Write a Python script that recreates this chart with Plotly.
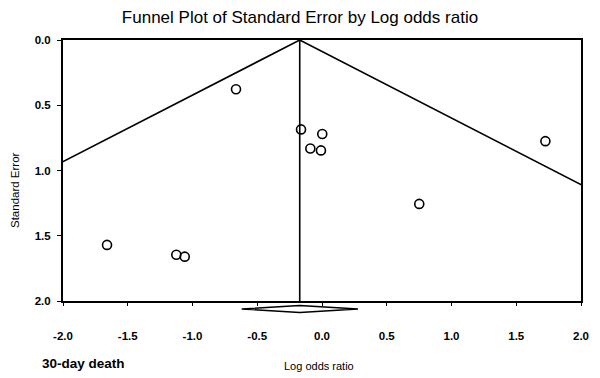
import plotly.graph_objects as go

# Study data
log_or = [-1.66, -1.125, -1.06, -0.664, -0.162, -0.09, -0.008, 0.002, 0.751, 1.725]
std_err = [1.57, 1.646, 1.66, 0.377, 0.685, 0.831, 0.846, 0.72, 1.256, 0.775]

# Pooled estimate and its 95% CI
pooled = -0.172
ci_low = -0.62
ci_high = 0.278

x_ticks = [-2.0, -1.5, -1.0, -0.5, 0.0, 0.5, 1.0, 1.5, 2.0]
y_ticks = [0.0, 0.5, 1.0, 1.5, 2.0]
se_max = 2.0
z = 1.96

W, H = 600, 378
ml, mr, mt, mb = 63, 19, 40, 77
plot_h = H - mt - mb
plot_w = W - ml - mr

fig = go.Figure()

# Funnel limits
fig.add_trace(go.Scatter(
    x=[pooled - z * se_max, pooled, pooled + z * se_max],
    y=[se_max, 0, se_max],
    mode="lines", line=dict(color="black", width=1.6),
    hoverinfo="skip", showlegend=False))
# Vertical line at pooled estimate
fig.add_trace(go.Scatter(
    x=[pooled, pooled], y=[0, se_max],
    mode="lines", line=dict(color="black", width=1.6),
    hoverinfo="skip", showlegend=False))
# Studies
fig.add_trace(go.Scatter(
    x=log_or, y=std_err, mode="markers",
    marker=dict(symbol="circle-open", size=9, color="black", line=dict(width=1.6)),
    showlegend=False))

# Diamond (pooled estimate) below the plot
d_c = -8 / plot_h
d_h = 3.5 / plot_h
path = (f"M {ci_low},{d_c} L {pooled},{d_c + d_h} L {ci_high},{d_c} "
        f"L {pooled},{d_c - d_h} Z")
fig.add_shape(type="path", path=path, xref="x", yref="paper",
              line=dict(color="black", width=1.3), fillcolor="white")

tick_font = dict(size=11.5, family="Liberation Sans, Arial", weight="bold")

fig.update_layout(
    width=W, height=H,
    margin=dict(l=ml, r=mr, t=mt, b=mb),
    paper_bgcolor="white", plot_bgcolor="white",
    font=dict(family="Liberation Sans, Arial, sans-serif", color="black"),
    title=dict(text="Funnel Plot of Standard Error by Log odds ratio",
               x=0.5, xanchor="center", y=1 - 17 / H, yanchor="middle",
               font=dict(size=17, color="black")),
    xaxis=dict(range=[-2, 2], tickvals=x_ticks,
               ticktext=[f"{v:.1f}" for v in x_ticks],
               showgrid=False, zeroline=False, showline=True, mirror=True,
               linecolor="black", linewidth=2, ticks="outside", ticklen=3,
               tickcolor="black", ticklabelstandoff=20, tickfont=tick_font),
    yaxis=dict(range=[2, 0], tickvals=y_ticks,
               ticktext=[f"{v:.1f}" for v in y_ticks],
               showgrid=False, zeroline=False, showline=True, mirror=True,
               linecolor="black", linewidth=2, ticks="outside", ticklen=4,
               tickcolor="black", ticklabelstandoff=4, tickfont=tick_font),
    annotations=[
        dict(text="Standard Error", xref="paper", yref="paper",
             x=-(ml - 15) / plot_w, y=(H - mb - 190) / plot_h,
             xanchor="center", yanchor="middle",
             textangle=-90, showarrow=False, font=dict(size=11.5)),
        dict(text="Log odds ratio", xref="paper", yref="paper",
             x=(319 - ml) / plot_w, y=-(366 - (H - mb)) / plot_h,
             xanchor="center", yanchor="middle", showarrow=False,
             font=dict(size=11)),
        dict(text="<b>30-day death</b>", xref="paper", yref="paper",
             x=(40 - ml) / plot_w, y=-(363 - (H - mb)) / plot_h,
             xanchor="left", yanchor="middle", showarrow=False,
             font=dict(size=13.5)),
    ],
)

fig.write_html("out.html", config={"displayModeBar": False},
               post_script="document.body.style.margin='0';")
